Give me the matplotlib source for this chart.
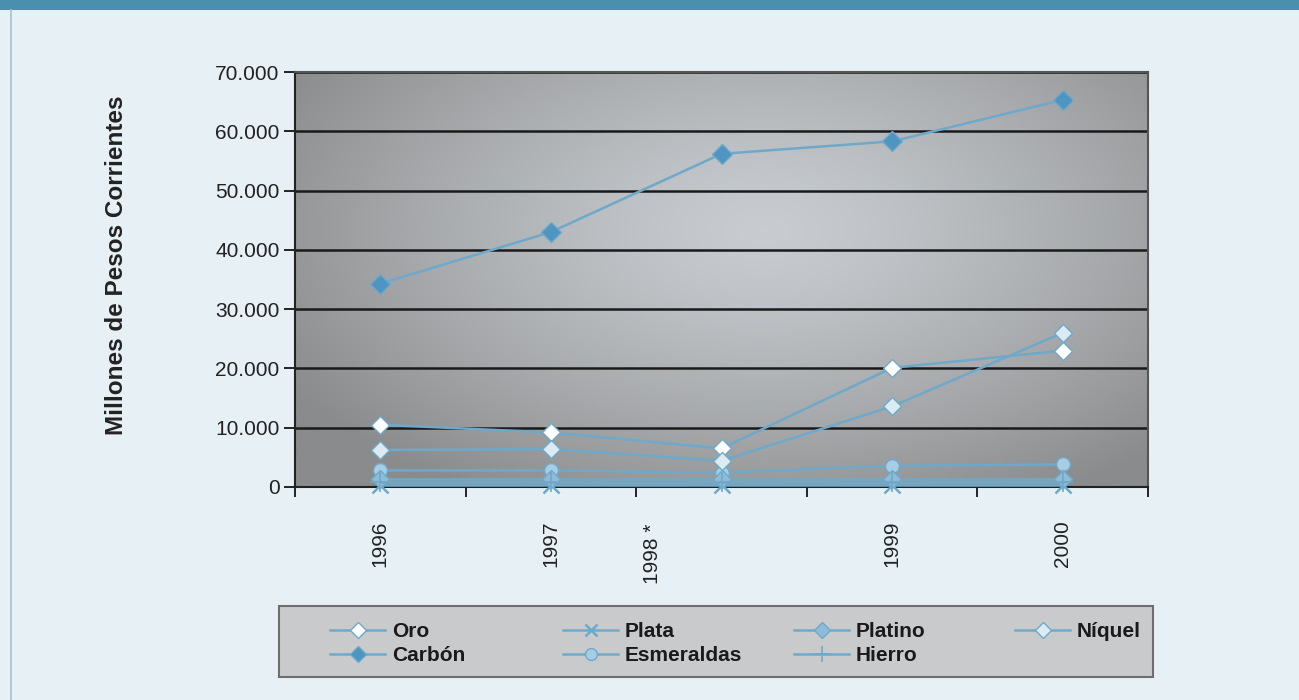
import numpy as np
import matplotlib
matplotlib.use('Agg')
import matplotlib.pyplot as plt
import matplotlib.transforms as mtransforms
from matplotlib.colors import LinearSegmentedColormap
from matplotlib.patches import Rectangle
from matplotlib.lines import Line2D
from matplotlib.ticker import FuncFormatter

plt.rcParams['font.family'] = ['Liberation Sans', 'DejaVu Sans']

# data (millones de pesos corrientes)
years = ['1996', '1997', '1998 *', '1999', '2000']
oro = [10500, 9200, 6500, 20100, 23000]
plata = [300, 300, 300, 300, 300]
platino = [1300, 1300, 1300, 1300, 1300]
niquel = [6250, 6400, 4400, 13600, 26000]
carbon = [34300, 43000, 56200, 58300, 65300]
esmeraldas = [2800, 2800, 2400, 3600, 3800]
hierro = [800, 800, 800, 800, 800]

line_col = '#6fa9c9'
bg_col = '#e7f0f5'

fig = plt.figure(figsize=(12.99, 7.0), dpi=100, facecolor=bg_col)
ax = fig.add_axes([295/1299, 1-487/700, 853/1299, 415/700])

# gray gradient in the plot area
yy, xx = np.mgrid[0:1:200j, 0:1:300j]
r = np.sqrt(((xx-0.55)/0.65)**2 + ((yy-0.62)/0.75)**2)
grad = np.clip(r, 0, 1)**1.3
cmap = LinearSegmentedColormap.from_list('g', ['#c8ccd0', '#8a8b8c'])
ax.imshow(grad, cmap=cmap, extent=[0, 1, 0, 1], transform=ax.transAxes,
          aspect='auto', origin='lower', zorder=0, interpolation='bilinear')

x = np.arange(len(years))
series = [
    ('Oro', oro, dict(marker='D', ms=9, mfc='white')),
    ('Carbón', carbon, dict(marker='D', ms=10, mfc='#4f95c2')),
    ('Plata', plata, dict(marker='x', ms=11, mew=1.8)),
    ('Esmeraldas', esmeraldas, dict(marker='o', ms=10, mfc='#a6cde3')),
    ('Platino', platino, dict(marker='D', ms=9, mfc='#8dbbd8')),
    ('Hierro', hierro, dict(marker='+', ms=14, mew=1.2)),
    ('Níquel', niquel, dict(marker='D', ms=9, mfc='#dbeaf3')),
]
handles = []
for name, vals, st in series:
    h, = ax.plot(x, vals, color=line_col, lw=1.8, mec=line_col, label=name,
                 zorder=3, clip_on=False, **st)
    handles.append(h)

ax.set_xlim(-0.5, len(years)-0.5)
ax.set_ylim(0, 70000)
ax.set_yticks(np.arange(0, 70001, 10000))
ax.yaxis.set_major_formatter(FuncFormatter(lambda v, p: '{:,.0f}'.format(v).replace(',', '.')))
ax.grid(axis='y', color='#1a1a1a', lw=1.8, zorder=1)
ax.set_axisbelow(True)

ax.set_xticks(np.arange(-0.5, len(years)), minor=False)
ax.set_xticklabels([])
ax.set_xticks(x, minor=True)
ax.set_xticklabels(years, minor=True, rotation=90, fontsize=15, color='#222222')
ax.tick_params(axis='x', which='minor', length=0, pad=24)
ax.tick_params(axis='x', which='major', length=7, width=1.2, direction='out')
ax.tick_params(axis='y', length=8, width=1.2, pad=3, labelsize=15, labelcolor='#222222')

# the 1998 label sits off its category in the original
lab = ax.get_xticklabels(minor=True)[2]
lab.set_transform(lab.get_transform() + mtransforms.ScaledTranslation(-0.69, -0.03, fig.dpi_scale_trans))

for s in ['left', 'bottom']:
    ax.spines[s].set_color('#222222')
    ax.spines[s].set_linewidth(1.5)
for s in ['top', 'right']:
    ax.spines[s].set_color('#555555')
    ax.spines[s].set_linewidth(1.5)

ax.set_ylabel('Millones de Pesos Corrientes', fontsize=17.5, fontweight='bold', color='#222222')
ax.yaxis.set_label_coords(-0.196, 0.535)

# header band and frame
fig.patches.append(Rectangle((0, 1-10/700), 1, 10/700, transform=fig.transFigure,
                             facecolor='#4a8fae', edgecolor='none', zorder=0))
fig.lines.append(Line2D([11/1299, 11/1299], [0, 1-10/700], transform=fig.transFigure,
                        color='#a9c3d0', lw=1.2))

# legend box
fig.patches.append(Rectangle((279/1299, 1-677/700), 874/1299, 71/700, transform=fig.transFigure,
                             facecolor='#c9cacc', edgecolor='#6e6e6e', lw=1.5, zorder=0))
col_x = [330, 563, 794, 1015]
cols = [handles[0:2], handles[2:4], handles[4:6], handles[6:7]]
for cx, hs in zip(col_x, cols):
    leg = fig.legend(handles=hs, loc='upper left', bbox_to_anchor=(cx/1299, 1-622/700),
                     frameon=False, handlelength=2.65, handletextpad=0.33, labelspacing=0.25,
                     borderpad=0, borderaxespad=0, markerscale=0.85,
                     prop={'size': 15, 'weight': 'bold'})
    for t in leg.get_texts():
        t.set_color('#1a1a1a')

fig.savefig('out.png', dpi=100, facecolor=fig.get_facecolor())
